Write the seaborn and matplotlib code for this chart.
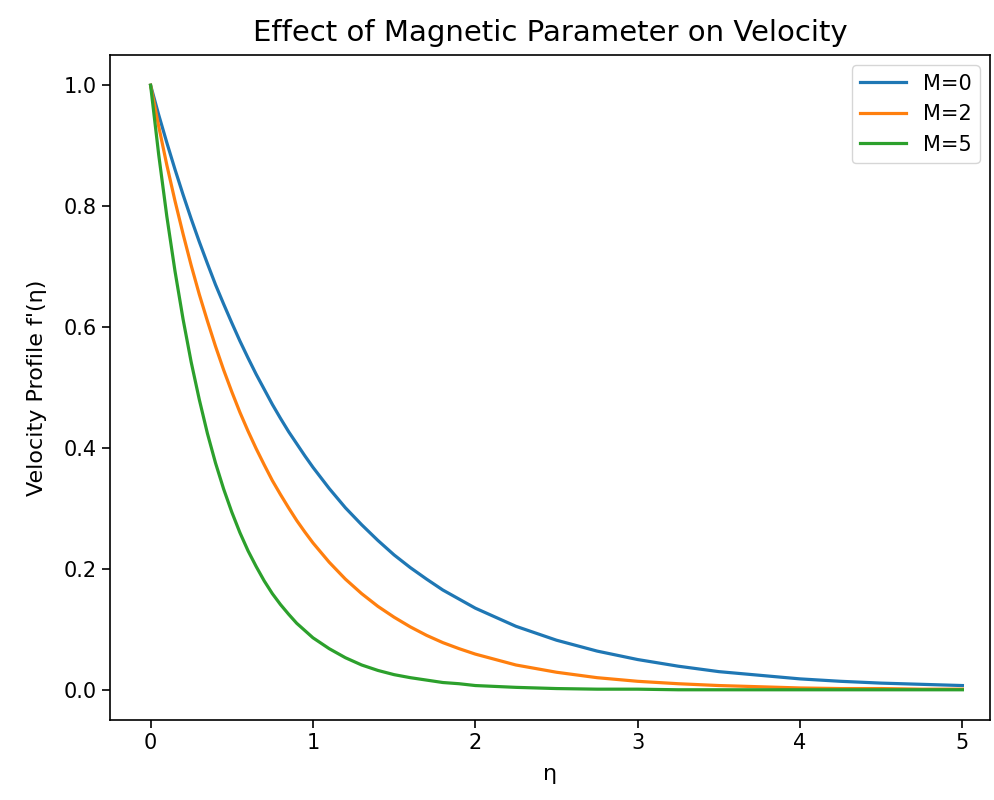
import matplotlib
matplotlib.use("Agg")
import matplotlib.pyplot as plt
import seaborn as sns
import pandas as pd

eta = [0, 0.05, 0.1, 0.15, 0.2, 0.25, 0.3, 0.35, 0.4, 0.45, 0.5, 0.55, 0.6, 0.65, 0.7,
       0.75, 0.8, 0.85, 0.9, 0.95, 1.0, 1.1, 1.2, 1.3, 1.4, 1.5, 1.6, 1.7, 1.8, 1.9, 2.0,
       2.25, 2.5, 2.75, 3.0, 3.25, 3.5, 3.75, 4.0, 4.25, 4.5, 4.75, 5.0]
v_m0 = [1.000, 0.951, 0.905, 0.861, 0.819, 0.779, 0.741, 0.705, 0.670, 0.638, 0.607, 0.577,
        0.549, 0.522, 0.497, 0.472, 0.449, 0.427, 0.407, 0.387, 0.368, 0.333, 0.301, 0.273,
        0.247, 0.223, 0.202, 0.183, 0.165, 0.150, 0.135, 0.105, 0.082, 0.064, 0.050, 0.039,
        0.030, 0.024, 0.018, 0.014, 0.011, 0.009, 0.007]
v_m2 = [1.000, 0.932, 0.868, 0.809, 0.754, 0.702, 0.654, 0.610, 0.568, 0.529, 0.493, 0.459,
        0.428, 0.399, 0.372, 0.346, 0.323, 0.301, 0.280, 0.261, 0.243, 0.211, 0.183, 0.159,
        0.138, 0.120, 0.104, 0.090, 0.078, 0.068, 0.059, 0.041, 0.029, 0.020, 0.014, 0.010,
        0.007, 0.005, 0.003, 0.002, 0.002, 0.001, 0.001]
v_m5 = [1.000, 0.885, 0.783, 0.693, 0.613, 0.542, 0.480, 0.424, 0.375, 0.332, 0.294, 0.260,
        0.230, 0.204, 0.180, 0.159, 0.141, 0.125, 0.110, 0.098, 0.086, 0.068, 0.053, 0.041,
        0.032, 0.025, 0.020, 0.016, 0.012, 0.010, 0.007, 0.004, 0.002, 0.001, 0.001, 0.000,
        0.000, 0.000, 0.000, 0.000, 0.000, 0.000, 0.000]
labels = ["M=0", "M=2", "M=5"]

rows = []
for lab, vals in zip(labels, [v_m0, v_m2, v_m5]):
    for e, v in zip(eta, vals):
        rows.append({"eta": e, "v": v, "M": lab})
df = pd.DataFrame(rows)

plt.rcParams['font.family'] = ['DejaVu Sans']
fig = plt.figure(figsize=(9.94, 8.0), dpi=100)
ax = fig.add_axes([110/994, 80/800, (994-110-4)/994, (720-55)/800])

sns.lineplot(data=df, x="eta", y="v", hue="M", palette=["#1f77b4", "#ff7f0e", "#2ca02c"],
             linewidth=2.3, ax=ax, sort=False)

ax.set_xlim(-0.25, 5.17)
ax.set_ylim(-0.05, 1.05)
ax.set_xticks([0, 1, 2, 3, 4, 5])
ax.set_yticks([0.0, 0.2, 0.4, 0.6, 0.8, 1.0])
ax.tick_params(labelsize=15, length=6, width=1.2)
for s in ax.spines.values():
    s.set_linewidth(1.2)
ax.set_xlabel("η", fontsize=16, labelpad=8)
ax.set_ylabel("Velocity Profile f'(η)", fontsize=16, labelpad=12)
ax.set_title("Effect of Magnetic Parameter on Velocity", fontsize=21, pad=10)
leg = ax.legend(title=None, fontsize=15, loc="upper right", handlelength=2.2)

fig.savefig("out.png", dpi=100)
